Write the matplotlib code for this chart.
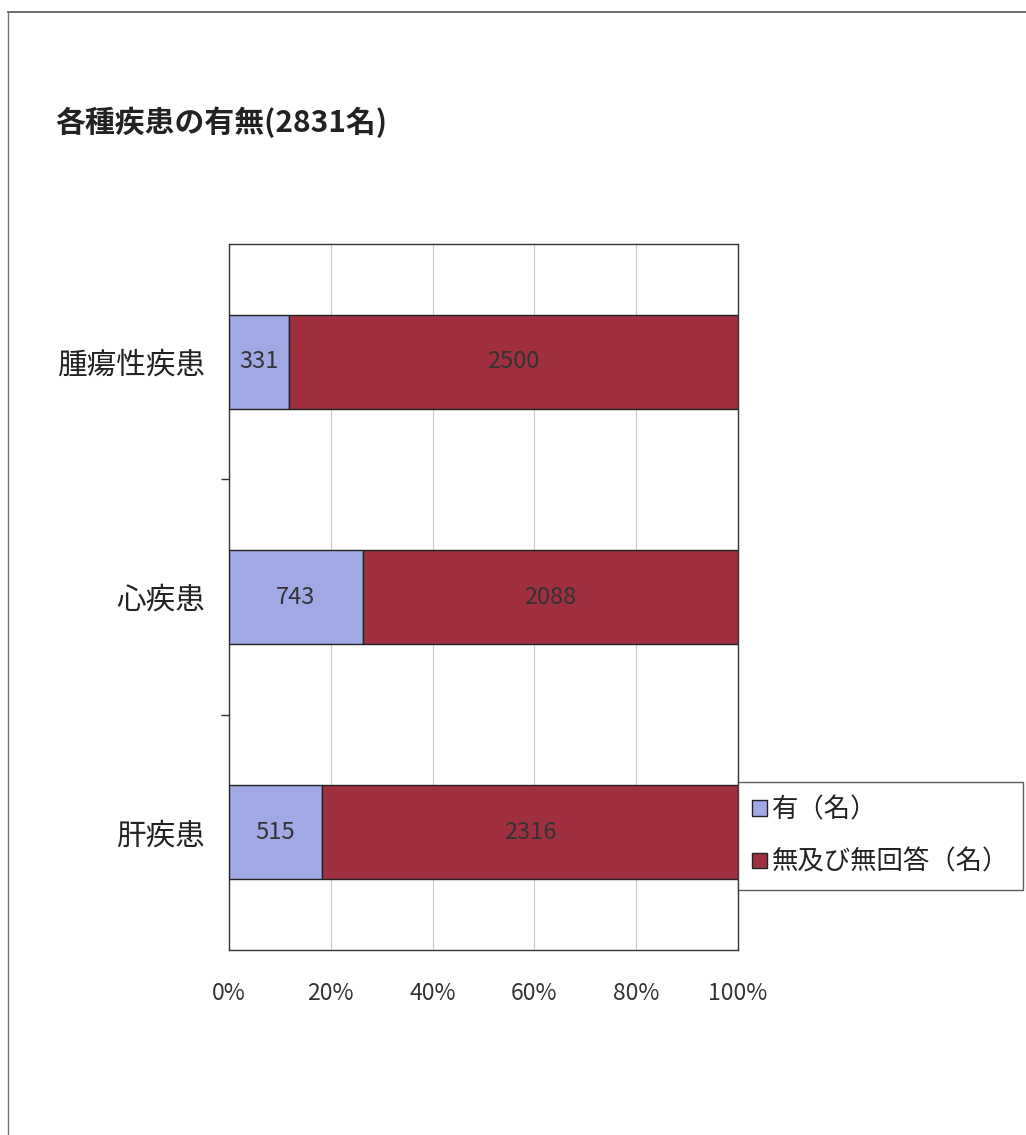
import matplotlib
matplotlib.use("Agg")
import matplotlib.pyplot as plt
from matplotlib.lines import Line2D
from matplotlib.ticker import FixedLocator, PercentFormatter
import numpy as np

plt.rcParams["font.family"] = ["Noto Sans CJK JP", "DejaVu Sans"]

# bottom to top, as drawn on the category axis
categories = ["肝疾患", "心疾患", "腫瘍性疾患"]
yes_counts = np.array([515, 743, 331])
no_counts = np.array([2316, 2088, 2500])
series_names = ["有（名）", "無及び無回答（名）"]
title = "各種疾患の有無(2831名)"

BLUE = "#A0A9E4"
RED = "#A0303F"

total = yes_counts + no_counts
yes_pct = yes_counts / total * 100
no_pct = no_counts / total * 100

fig = plt.figure(figsize=(10.26, 11.35), dpi=100)
ax = fig.add_axes([0.2232, 0.163, 0.4961, 0.622])

y = np.arange(len(categories))
b1 = ax.barh(y, yes_pct, height=0.4, color=BLUE, edgecolor="#222222",
             linewidth=1.0, label=series_names[0], zorder=3)
b2 = ax.barh(y, no_pct, left=yes_pct, height=0.4, color=RED,
             edgecolor="#222222", linewidth=1.0, label=series_names[1], zorder=3)

for i in range(len(categories)):
    ax.text(yes_pct[i] / 2, y[i], f"{yes_counts[i]}", ha="center", va="center",
            fontsize=17, color="#333333", zorder=4)
    ax.text(yes_pct[i] + no_pct[i] / 2, y[i], f"{no_counts[i]}", ha="center",
            va="center", fontsize=17, color="#333333", zorder=4)

ax.set_xlim(0, 100)
ax.set_ylim(-0.5, len(categories) - 0.5)
ax.set_xticks(np.arange(0, 101, 20))
ax.xaxis.set_major_formatter(PercentFormatter(decimals=0))
ax.grid(axis="x", color="#c8c8c8", linewidth=0.8, zorder=0)
ax.tick_params(axis="x", length=0, pad=23, labelsize=16.5, labelcolor="#333333")

ax.set_yticks(y)
ax.set_yticklabels(categories, fontsize=21.3, color="#222222")
ax.yaxis.set_minor_locator(FixedLocator([0.5, 1.5]))
ax.tick_params(axis="y", which="major", length=0, pad=17)
ax.tick_params(axis="y", which="minor", length=6, width=1, color="#333333")

for s in ax.spines.values():
    s.set_color("#333333")
    s.set_linewidth(1.0)

leg = ax.legend(handles=[b1, b2], loc="upper left",
                bbox_to_anchor=(0.7195, 0.311), bbox_transform=fig.transFigure,
                fontsize=19, frameon=True, fancybox=False, edgecolor="#333333",
                handlelength=0.55, handleheight=0.55, handletextpad=0.2,
                labelspacing=0.98, borderpad=0.53, borderaxespad=0)
leg.get_frame().set_linewidth(1.0)
for t in leg.get_texts():
    t.set_color("#222222")

fig.text(0.0536, 0.8925, title, fontsize=21.5, fontweight="bold",
         ha="left", va="center", color="#222222")

# outer chart frame (top and left edges)
fig.add_artist(Line2D([0.008, 1.0], [0.989, 0.989], transform=fig.transFigure,
                      color="#555555", linewidth=1.2))
fig.add_artist(Line2D([0.008, 0.008], [0.0, 0.989], transform=fig.transFigure,
                      color="#777777", linewidth=1.0))

fig.savefig("out.png", dpi=100, facecolor="white")
